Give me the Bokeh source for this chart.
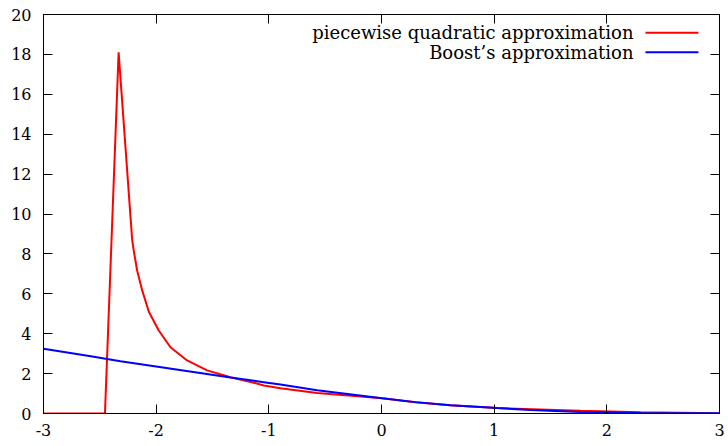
from bokeh.plotting import figure
from bokeh.models import Range1d, LinearAxis, FixedTicker, Label, Arrow
from bokeh.embed import file_html
from bokeh.resources import INLINE

# ---- data ----
red_x = [-3.0, -2.4545, -2.3333, -2.213, -2.199, -2.169, -2.124,
         -2.065, -1.977, -1.873, -1.725, -1.548, -1.34, -1.133, -1.045, -0.897,
         -0.571, 0.006, 0.3, 0.612, 1.027, 1.766, 2.3, 3.0]
red_y = [0.0, 0.0, 18.1, 8.7, 8.17, 7.17, 6.17,
         5.1, 4.16, 3.32, 2.66, 2.16, 1.82, 1.54, 1.40, 1.27,
         1.03, 0.76, 0.56, 0.41, 0.27, 0.14, 0.06, 0.01]

blue_x = [-3.0, -2.58, -2.317, -2.0, -1.34, -1.045, -0.897, -0.571, 0.006,
          0.3, 0.612, 1.027, 1.32, 1.766, 2.3, 3.0]
blue_y = [3.24, 2.87, 2.62, 2.36, 1.80, 1.57, 1.45, 1.17, 0.76,
          0.57, 0.41, 0.27, 0.18, 0.08, 0.03, 0.01]

series_names = ["piecewise quadratic approximation", "Boost\u2019s approximation"]
series_colors = ["#ff0000", "#0000ff"]

x_ticks = [-3, -2, -1, 0, 1, 2, 3]
x_tick_labels = ["-3", "-2", "-1", "0", "1", "2", "3"]
y_ticks = [0, 2, 4, 6, 8, 10, 12, 14, 16, 18, 20]
y_tick_labels = ["0", "2", "4", "6", "8", "10", "12", "14", "16", "18", "20"]

FONT = "DejaVu Serif"
TICK_FSIZE = "16px"
LEG_FSIZE = "18px"

p = figure(width=728, height=446, output_backend="svg", toolbar_location=None,
           x_range=Range1d(-3, 3), y_range=Range1d(0, 20),
           x_axis_location=None, y_axis_location=None,
           min_border_left=43, min_border_right=9, min_border_top=14,
           min_border_bottom=33)
p.grid.visible = False
p.outline_line_color = "black"
p.outline_line_width = 1
p.background_fill_color = "white"
p.border_fill_color = "white"


def make_axis(ticks, labels, show_labels, standoff):
    ax = LinearAxis(ticker=FixedTicker(ticks=ticks))
    ax.major_label_overrides = {t: (l if show_labels else "") for t, l in zip(ticks, labels)}
    ax.major_tick_in = 9
    ax.major_tick_out = 0
    ax.minor_tick_in = 0
    ax.minor_tick_out = 0
    ax.axis_line_color = "black"
    ax.major_tick_line_color = "black"
    ax.major_label_text_font = FONT
    ax.major_label_text_font_size = TICK_FSIZE if show_labels else "1px"
    ax.major_label_text_color = "black"
    ax.major_label_standoff = standoff
    return ax


p.add_layout(make_axis(x_ticks, x_tick_labels, True, 10), "below")
p.add_layout(make_axis(x_ticks, x_tick_labels, False, 0), "above")
p.add_layout(make_axis(y_ticks, y_tick_labels, True, 12), "left")
p.add_layout(make_axis(y_ticks, y_tick_labels, False, 0), "right")

p.line(red_x, red_y, line_color=series_colors[0], line_width=2)
p.line(blue_x, blue_y, line_color=series_colors[1], line_width=2)

# legend (label left of sample, gnuplot style)
leg_rows_y = [19.08, 18.11]
for name, col, yy in zip(series_names, series_colors, leg_rows_y):
    p.add_layout(Label(x=2.237, y=yy, text=name, text_align="right",
                       text_baseline="middle", text_font=FONT,
                       text_font_size=LEG_FSIZE, text_color="black"))
    p.add_layout(Arrow(end=None, start=None, x_start=2.343, y_start=yy,
                       x_end=2.813, y_end=yy, line_color=col, line_width=2))

open("out.html", "w").write(file_html(p, INLINE))
